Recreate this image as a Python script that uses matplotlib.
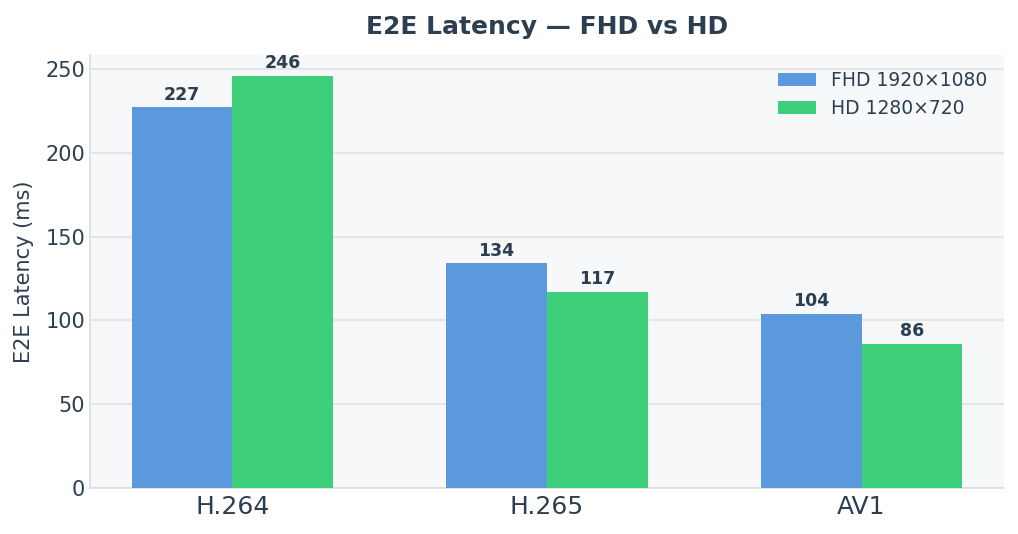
import matplotlib
matplotlib.use("Agg")
import matplotlib.pyplot as plt
import numpy as np

codecs = ["H.264", "H.265", "AV1"]
fhd = [227, 134, 104]
hd = [246, 117, 86]
series_labels = ["FHD 1920×1080", "HD 1280×720"]

text_color = "#2c3e50"
fig, ax = plt.subplots(figsize=(10.18, 5.34), dpi=100)
fig.subplots_adjust(left=0.0884, right=0.986, top=0.897, bottom=0.086)
ax.set_facecolor("#f7f8fa")

x = np.arange(len(codecs))
w = 0.32
b1 = ax.bar(x - w/2, fhd, w, color="#5a99db", label=series_labels[0], zorder=3)
b2 = ax.bar(x + w/2, hd, w, color="#3dcf7a", label=series_labels[1], zorder=3)

for bars, vals in ((b1, fhd), (b2, hd)):
    for r, v in zip(bars, vals):
        ax.text(r.get_x() + r.get_width()/2, v + 2.3, f"{v}", ha="center", va="bottom",
                fontsize=12.5, fontweight="bold", color=text_color)

ax.set_ylim(0, 258.3)
ax.set_xticks(x)
ax.set_xticklabels(codecs, fontsize=18, color=text_color)
ax.tick_params(axis="y", labelsize=15, labelcolor=text_color, length=0)
ax.tick_params(axis="x", length=0, pad=5)
ax.set_ylabel("E2E Latency (ms)", fontsize=15, color=text_color, labelpad=8)
ax.set_title("E2E Latency — FHD vs HD", fontsize=18, fontweight="bold", color=text_color, pad=15)
ax.grid(axis="y", color="#dfe2e6", linewidth=1.2, zorder=0)
for s in ("top", "right"):
    ax.spines[s].set_visible(False)
for s in ("left", "bottom"):
    ax.spines[s].set_color("#dddddd")
    ax.spines[s].set_linewidth(1.2)

leg = ax.legend(frameon=False, fontsize=13.5, loc="upper right", labelcolor=text_color,
                handlelength=2.0, handletextpad=0.78, labelspacing=0.5,
                bbox_to_anchor=(1.0, 1.002))

fig.savefig("out.png", dpi=100)
